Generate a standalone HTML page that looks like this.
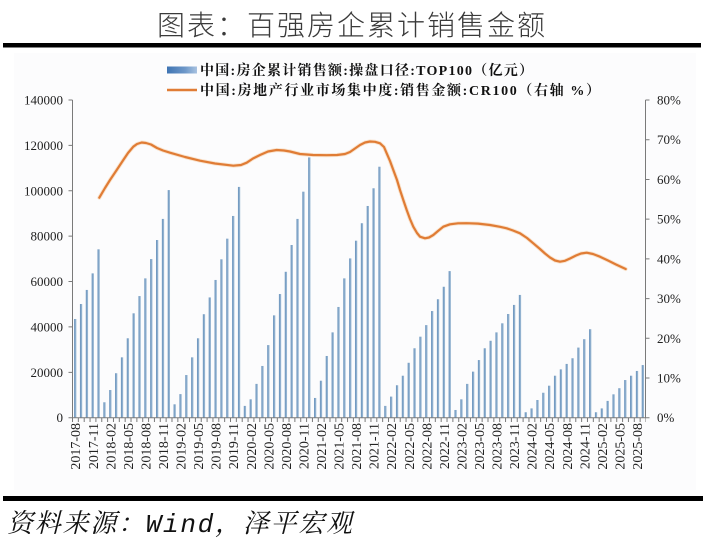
<!DOCTYPE html>
<html><head><meta charset="utf-8">
<style>
html,body{margin:0;padding:0;background:#fff;}
svg{display:block}
</style></head>
<body>
<svg width="706" height="545" viewBox="0 0 706 545" xmlns="http://www.w3.org/2000/svg">
<defs>
<linearGradient id="bg" x1="0" y1="0" x2="1" y2="0">
<stop offset="0" stop-color="#6590bb"/>
<stop offset="0.5" stop-color="#84a7c9"/>
<stop offset="1" stop-color="#a3bfd8"/>
</linearGradient>
<linearGradient id="lg" x1="0" y1="0" x2="1" y2="0">
<stop offset="0" stop-color="#3f74b3"/>
<stop offset="0.6" stop-color="#6d97c8"/>
<stop offset="1" stop-color="#a8c2e0"/>
</linearGradient>
</defs>
<rect x="0" y="0" width="706" height="545" fill="#fff"/>
<rect x="14" y="53" width="682" height="437" fill="#fcfcfd"/>

<!-- Title -->
<text x="157" y="35" textLength="388" lengthAdjust="spacing" font-family="'Noto Sans CJK SC', 'WenQuanYi Zen Hei', sans-serif" font-weight="300" font-size="28" fill="#3a3a3a">图表：百强房企累计销售金额</text>
<rect x="3" y="43" width="698" height="4.5" fill="#000"/>

<!-- Legend -->
<rect x="167" y="66.5" width="30" height="7" fill="url(#lg)"/>
<text x="200" y="75" textLength="333" lengthAdjust="spacing" font-family="'Liberation Serif', 'Noto Serif CJK SC', serif" font-weight="bold" font-size="14" fill="#111">中国:房企累计销售额:操盘口径:TOP100（亿元）</text>
<line x1="167" y1="90" x2="197" y2="90" stroke="#e07c35" stroke-width="2.5"/>
<text x="200" y="95" textLength="400" lengthAdjust="spacing" font-family="'Liberation Serif', 'Noto Serif CJK SC', serif" font-weight="bold" font-size="14" fill="#111">中国:房地产行业市场集中度:销售金额:CR100（右轴 %）</text>

<!-- Bars -->
<g transform="matrix(5.852 0 0 -2.2693 74.08 417.7)" fill="url(#bg)">
<rect x="0" y="0" width="0.393" height="43.5"/>
<rect x="1" y="0" width="0.393" height="50.1"/>
<rect x="2" y="0" width="0.393" height="56.3"/>
<rect x="3" y="0" width="0.393" height="63.6"/>
<rect x="4" y="0" width="0.393" height="74.2"/>
<rect x="5" y="0" width="0.393" height="6.8"/>
<rect x="6" y="0" width="0.393" height="12.2"/>
<rect x="7" y="0" width="0.393" height="19.6"/>
<rect x="8" y="0" width="0.393" height="26.6"/>
<rect x="9" y="0" width="0.393" height="35"/>
<rect x="10" y="0" width="0.393" height="46"/>
<rect x="11" y="0" width="0.393" height="53.6"/>
<rect x="12" y="0" width="0.393" height="61.4"/>
<rect x="13" y="0" width="0.393" height="69.9"/>
<rect x="14" y="0" width="0.393" height="78.3"/>
<rect x="15" y="0" width="0.393" height="87.6"/>
<rect x="16" y="0" width="0.393" height="100.3"/>
<rect x="17" y="0" width="0.393" height="5.9"/>
<rect x="18" y="0" width="0.393" height="10.4"/>
<rect x="19" y="0" width="0.393" height="18.8"/>
<rect x="20" y="0" width="0.393" height="26.6"/>
<rect x="21" y="0" width="0.393" height="35"/>
<rect x="22" y="0" width="0.393" height="45.6"/>
<rect x="23" y="0" width="0.393" height="53"/>
<rect x="24" y="0" width="0.393" height="60.7"/>
<rect x="25" y="0" width="0.393" height="69.8"/>
<rect x="26" y="0" width="0.393" height="78.9"/>
<rect x="27" y="0" width="0.393" height="88.9"/>
<rect x="28" y="0" width="0.393" height="101.7"/>
<rect x="29" y="0" width="0.393" height="5.2"/>
<rect x="30" y="0" width="0.393" height="8.1"/>
<rect x="31" y="0" width="0.393" height="14.9"/>
<rect x="32" y="0" width="0.393" height="22.8"/>
<rect x="33" y="0" width="0.393" height="32"/>
<rect x="34" y="0" width="0.393" height="45.1"/>
<rect x="35" y="0" width="0.393" height="54.5"/>
<rect x="36" y="0" width="0.393" height="64.3"/>
<rect x="37" y="0" width="0.393" height="76.1"/>
<rect x="38" y="0" width="0.393" height="87.6"/>
<rect x="39" y="0" width="0.393" height="99.6"/>
<rect x="40" y="0" width="0.393" height="114.7"/>
<rect x="41" y="0" width="0.393" height="8.7"/>
<rect x="42" y="0" width="0.393" height="16.3"/>
<rect x="43" y="0" width="0.393" height="27.2"/>
<rect x="44" y="0" width="0.393" height="37.6"/>
<rect x="45" y="0" width="0.393" height="48.8"/>
<rect x="46" y="0" width="0.393" height="61.4"/>
<rect x="47" y="0" width="0.393" height="70.2"/>
<rect x="48" y="0" width="0.393" height="78"/>
<rect x="49" y="0" width="0.393" height="85.7"/>
<rect x="50" y="0" width="0.393" height="93.3"/>
<rect x="51" y="0" width="0.393" height="101.1"/>
<rect x="52" y="0" width="0.393" height="110.6"/>
<rect x="53" y="0" width="0.393" height="5.2"/>
<rect x="54" y="0" width="0.393" height="9.3"/>
<rect x="55" y="0" width="0.393" height="14.3"/>
<rect x="56" y="0" width="0.393" height="18.5"/>
<rect x="57" y="0" width="0.393" height="24.2"/>
<rect x="58" y="0" width="0.393" height="30.6"/>
<rect x="59" y="0" width="0.393" height="35.7"/>
<rect x="60" y="0" width="0.393" height="40.8"/>
<rect x="61" y="0" width="0.393" height="47"/>
<rect x="62" y="0" width="0.393" height="52.2"/>
<rect x="63" y="0" width="0.393" height="57.7"/>
<rect x="64" y="0" width="0.393" height="64.6"/>
<rect x="65" y="0" width="0.393" height="3.4"/>
<rect x="66" y="0" width="0.393" height="8.1"/>
<rect x="67" y="0" width="0.393" height="14.9"/>
<rect x="68" y="0" width="0.393" height="20.3"/>
<rect x="69" y="0" width="0.393" height="25.4"/>
<rect x="70" y="0" width="0.393" height="30.6"/>
<rect x="71" y="0" width="0.393" height="33.9"/>
<rect x="72" y="0" width="0.393" height="37.6"/>
<rect x="73" y="0" width="0.393" height="41.6"/>
<rect x="74" y="0" width="0.393" height="45.7"/>
<rect x="75" y="0" width="0.393" height="49.7"/>
<rect x="76" y="0" width="0.393" height="54.1"/>
<rect x="77" y="0" width="0.393" height="2.4"/>
<rect x="78" y="0" width="0.393" height="4.1"/>
<rect x="79" y="0" width="0.393" height="7.8"/>
<rect x="80" y="0" width="0.393" height="11"/>
<rect x="81" y="0" width="0.393" height="14.1"/>
<rect x="82" y="0" width="0.393" height="18.5"/>
<rect x="83" y="0" width="0.393" height="21.3"/>
<rect x="84" y="0" width="0.393" height="23.7"/>
<rect x="85" y="0" width="0.393" height="26.2"/>
<rect x="86" y="0" width="0.393" height="30.9"/>
<rect x="87" y="0" width="0.393" height="34.6"/>
<rect x="88" y="0" width="0.393" height="39"/>
<rect x="89" y="0" width="0.393" height="2.4"/>
<rect x="90" y="0" width="0.393" height="4.1"/>
<rect x="91" y="0" width="0.393" height="7.4"/>
<rect x="92" y="0" width="0.393" height="10.3"/>
<rect x="93" y="0" width="0.393" height="13"/>
<rect x="94" y="0" width="0.393" height="16.6"/>
<rect x="95" y="0" width="0.393" height="18.5"/>
<rect x="96" y="0" width="0.393" height="20.6"/>
<rect x="97" y="0" width="0.393" height="23.2"/>
</g>

<!-- Axes -->
<g stroke="#7a7a7a" stroke-width="1" fill="none">
<line x1="72.5" y1="100" x2="72.5" y2="418"/>
<line x1="645.5" y1="100" x2="645.5" y2="418"/>
<line x1="72" y1="417.7" x2="646" y2="417.7"/>
<line x1="70.5" y1="418.2" x2="70.5" y2="99.5" stroke-width="4" stroke-dasharray="1 44.386"/>
<line x1="647.5" y1="418.2" x2="647.5" y2="99.5" stroke-width="4" stroke-dasharray="1 38.71"/>
<line x1="72" y1="420" x2="646" y2="420" stroke-width="4" stroke-dasharray="1 4.852"/>
</g>

<!-- CR100 line -->
<polyline fill="none" stroke="#f6d3b0" stroke-width="4" stroke-linejoin="round" stroke-linecap="round" opacity="0.6" points="99.3,197.7 105,188 110,180 116.7,170 123.3,160 128,153 133.3,146.7 137,144 141.7,142.5 146,143 151,144.5 157,148 163,150.5 170,152.7 185,157 200,160.7 215,163.5 233.3,165.7 241,165 246.7,162.7 253,158.5 260,155 268,151.5 276.7,150 284,150.5 290,151.5 300,154 313,155 326.7,155.2 337,155 345,154 350,152 355,148.5 360,145 365,142.5 370,141.5 375,141.8 380,143.3 384,147 386.7,153.3 390,161 393.3,170 397,180 400,190 403.3,200 406.7,210 410,219 413.3,226.7 417,233 420,236.7 425,238.3 429,237.5 433.3,235 438,231 443.3,226.7 450,224.3 458,223.3 466.7,223.2 478,223.6 490,225 500,226.8 506.7,228.3 513,230.5 520,233.3 527,238 533.3,243.3 540,249 545,253.5 550,257.5 555,260.5 560,261.7 565,260.8 570,258.5 576,255.5 581,253.5 586.7,252.7 593,254 600,256.7 608,260.5 616,264.5 625.7,269"/>
<polyline fill="none" stroke="#e07c35" stroke-width="2.2" stroke-linejoin="round" stroke-linecap="round" points="99.3,197.7 105,188 110,180 116.7,170 123.3,160 128,153 133.3,146.7 137,144 141.7,142.5 146,143 151,144.5 157,148 163,150.5 170,152.7 185,157 200,160.7 215,163.5 233.3,165.7 241,165 246.7,162.7 253,158.5 260,155 268,151.5 276.7,150 284,150.5 290,151.5 300,154 313,155 326.7,155.2 337,155 345,154 350,152 355,148.5 360,145 365,142.5 370,141.5 375,141.8 380,143.3 384,147 386.7,153.3 390,161 393.3,170 397,180 400,190 403.3,200 406.7,210 410,219 413.3,226.7 417,233 420,236.7 425,238.3 429,237.5 433.3,235 438,231 443.3,226.7 450,224.3 458,223.3 466.7,223.2 478,223.6 490,225 500,226.8 506.7,228.3 513,230.5 520,233.3 527,238 533.3,243.3 540,249 545,253.5 550,257.5 555,260.5 560,261.7 565,260.8 570,258.5 576,255.5 581,253.5 586.7,252.7 593,254 600,256.7 608,260.5 616,264.5 625.7,269"/>

<!-- Left axis labels -->
<g font-family="'Liberation Serif', serif" font-size="13" fill="#222" text-anchor="end">
<text x="63" y="422.2">0</text>
<text x="63" y="376.8">20000</text>
<text x="63" y="331.4">40000</text>
<text x="63" y="286.0">60000</text>
<text x="63" y="240.6">80000</text>
<text x="63" y="195.3">100000</text>
<text x="63" y="149.9">120000</text>
<text x="63" y="104.5">140000</text>
</g>

<!-- Right axis labels -->
<g font-family="'Liberation Serif', serif" font-size="13" fill="#222" text-anchor="start">
<text x="657" y="422.2">0%</text>
<text x="657" y="382.5">10%</text>
<text x="657" y="342.8">20%</text>
<text x="657" y="303.1">30%</text>
<text x="657" y="263.4">40%</text>
<text x="657" y="223.6">50%</text>
<text x="657" y="183.9">60%</text>
<text x="657" y="144.2">70%</text>
<text x="657" y="104.5">80%</text>
</g>

<!-- X labels -->
<g font-family="'Liberation Serif', serif" font-size="14" fill="#222" text-anchor="end">
<text transform="translate(75.23,423) rotate(-90)" dy="5">2017-08</text>
<text transform="translate(92.79,423) rotate(-90)" dy="5">2017-11</text>
<text transform="translate(110.34,423) rotate(-90)" dy="5">2018-02</text>
<text transform="translate(127.9,423) rotate(-90)" dy="5">2018-05</text>
<text transform="translate(145.45,423) rotate(-90)" dy="5">2018-08</text>
<text transform="translate(163.01,423) rotate(-90)" dy="5">2018-11</text>
<text transform="translate(180.57,423) rotate(-90)" dy="5">2019-02</text>
<text transform="translate(198.12,423) rotate(-90)" dy="5">2019-05</text>
<text transform="translate(215.68,423) rotate(-90)" dy="5">2019-08</text>
<text transform="translate(233.23,423) rotate(-90)" dy="5">2019-11</text>
<text transform="translate(250.79,423) rotate(-90)" dy="5">2020-02</text>
<text transform="translate(268.35,423) rotate(-90)" dy="5">2020-05</text>
<text transform="translate(285.9,423) rotate(-90)" dy="5">2020-08</text>
<text transform="translate(303.46,423) rotate(-90)" dy="5">2020-11</text>
<text transform="translate(321.01,423) rotate(-90)" dy="5">2021-02</text>
<text transform="translate(338.57,423) rotate(-90)" dy="5">2021-05</text>
<text transform="translate(356.13,423) rotate(-90)" dy="5">2021-08</text>
<text transform="translate(373.68,423) rotate(-90)" dy="5">2021-11</text>
<text transform="translate(391.24,423) rotate(-90)" dy="5">2022-02</text>
<text transform="translate(408.79,423) rotate(-90)" dy="5">2022-05</text>
<text transform="translate(426.35,423) rotate(-90)" dy="5">2022-08</text>
<text transform="translate(443.91,423) rotate(-90)" dy="5">2022-11</text>
<text transform="translate(461.46,423) rotate(-90)" dy="5">2023-02</text>
<text transform="translate(479.02,423) rotate(-90)" dy="5">2023-05</text>
<text transform="translate(496.57,423) rotate(-90)" dy="5">2023-08</text>
<text transform="translate(514.13,423) rotate(-90)" dy="5">2023-11</text>
<text transform="translate(531.69,423) rotate(-90)" dy="5">2024-02</text>
<text transform="translate(549.24,423) rotate(-90)" dy="5">2024-05</text>
<text transform="translate(566.8,423) rotate(-90)" dy="5">2024-08</text>
<text transform="translate(584.35,423) rotate(-90)" dy="5">2024-11</text>
<text transform="translate(601.91,423) rotate(-90)" dy="5">2025-02</text>
<text transform="translate(619.47,423) rotate(-90)" dy="5">2025-05</text>
<text transform="translate(637.02,423) rotate(-90)" dy="5">2025-08</text>
</g>

<!-- Footer -->
<rect x="3" y="496" width="700" height="5" fill="#000"/>
<text x="7" y="532" textLength="345" lengthAdjust="spacing" font-family="'Liberation Mono', 'Noto Serif CJK SC', serif" font-style="italic" font-size="26" fill="#111">资料来源：Wind，泽平宏观</text>
</svg>
</body></html>
